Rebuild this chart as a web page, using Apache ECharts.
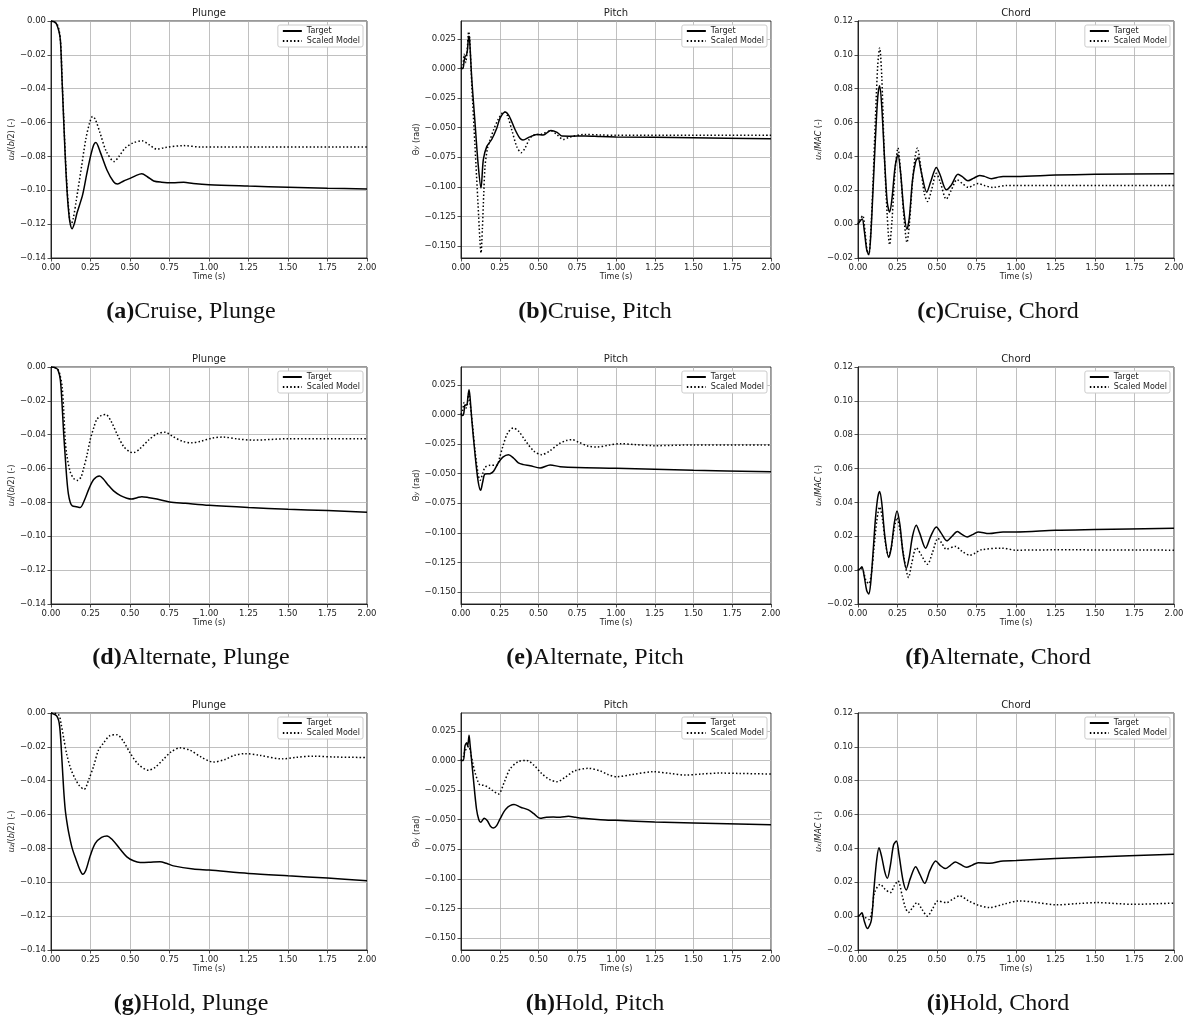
<!DOCTYPE html>
<html>
<head>
<meta charset="utf-8">
<script src="https://cdn.jsdelivr.net/npm/echarts@6/dist/echarts.min.js"></script>
<style>
html,body{margin:0;padding:0;background:#fff;}
#main{width:1190px;height:1021px;}
</style>
</head>
<body>
<div id="main"></div>
<script>
// series: [time (s), value]
var cruisePlungeTarget = [[0,0],[0.03,-0.001],[0.05,-0.006],[0.06,-0.012],[0.07,-0.035],[0.08,-0.058],[0.09,-0.08],[0.10,-0.098],[0.11,-0.111],[0.12,-0.119],[0.133,-0.1227],[0.15,-0.119],[0.164,-0.1136],[0.2,-0.1027],[0.227,-0.090],[0.25,-0.080],[0.27,-0.0732],[0.284,-0.0718],[0.31,-0.077],[0.354,-0.088],[0.396,-0.095],[0.421,-0.0963],[0.46,-0.0945],[0.50,-0.093],[0.54,-0.0912],[0.575,-0.0903],[0.61,-0.092],[0.65,-0.0945],[0.70,-0.0952],[0.77,-0.0955],[0.84,-0.0953],[0.90,-0.096],[1.0,-0.0967],[1.25,-0.0975],[1.5,-0.0982],[1.75,-0.0988],[2.0,-0.0992]];
var cruisePlungeModel = [[0,0],[0.04,-0.002],[0.06,-0.012],[0.07,-0.034],[0.08,-0.056],[0.09,-0.078],[0.10,-0.096],[0.11,-0.109],[0.126,-0.1205],[0.14,-0.117],[0.16,-0.106],[0.19,-0.088],[0.22,-0.070],[0.245,-0.060],[0.263,-0.0564],[0.28,-0.058],[0.31,-0.066],[0.35,-0.077],[0.40,-0.083],[0.43,-0.080],[0.47,-0.075],[0.52,-0.072],[0.575,-0.0708],[0.62,-0.073],[0.67,-0.0757],[0.72,-0.0748],[0.84,-0.0736],[0.95,-0.0745],[1.25,-0.0745],[2.0,-0.0745]];

var cruisePitchTarget = [[0,0],[0.012,0],[0.02,0.006],[0.026,0.010],[0.035,0.011],[0.042,0.016],[0.05,0.0272],[0.055,0.025],[0.07,-0.01],[0.09,-0.045],[0.11,-0.08],[0.129,-0.101],[0.144,-0.077],[0.166,-0.066],[0.198,-0.060],[0.23,-0.0507],[0.252,-0.042],[0.284,-0.0367],[0.31,-0.040],[0.35,-0.052],[0.38,-0.059],[0.40,-0.0605],[0.44,-0.058],[0.49,-0.0557],[0.53,-0.0563],[0.58,-0.0524],[0.62,-0.054],[0.65,-0.0571],[0.70,-0.0572],[0.80,-0.057],[0.9,-0.0575],[1.0,-0.0578],[1.5,-0.0585],[2.0,-0.0594]];
var cruisePitchModel = [[0,0],[0.012,0.002],[0.02,0.012],[0.026,0.008],[0.03,0.005],[0.038,0.012],[0.05,0.031],[0.056,0.025],[0.07,-0.015],[0.09,-0.065],[0.11,-0.115],[0.122,-0.145],[0.129,-0.1557],[0.138,-0.135],[0.147,-0.105],[0.155,-0.083],[0.17,-0.068],[0.187,-0.0605],[0.21,-0.052],[0.24,-0.043],[0.278,-0.0367],[0.30,-0.040],[0.33,-0.053],[0.36,-0.066],[0.388,-0.0711],[0.41,-0.068],[0.44,-0.060],[0.467,-0.0563],[0.52,-0.0555],[0.58,-0.0527],[0.62,-0.056],[0.66,-0.060],[0.70,-0.058],[0.80,-0.0557],[0.9,-0.0562],[1.0,-0.0565],[2.0,-0.0565]];

var cruiseChordTarget = [[0,0],[0.015,0.002],[0.027,0.003],[0.04,-0.004],[0.055,-0.015],[0.068,-0.018],[0.08,-0.008],[0.095,0.020],[0.11,0.050],[0.125,0.075],[0.137,0.0818],[0.15,0.070],[0.17,0.035],[0.185,0.013],[0.20,0.0071],[0.215,0.015],[0.235,0.034],[0.253,0.041],[0.27,0.030],[0.29,0.008],[0.31,-0.003],[0.325,0.004],[0.345,0.026],[0.365,0.037],[0.38,0.0392],[0.40,0.031],[0.435,0.0189],[0.46,0.025],[0.496,0.0335],[0.52,0.029],[0.559,0.0203],[0.59,0.023],[0.633,0.0294],[0.66,0.0280],[0.696,0.0256],[0.73,0.027],[0.77,0.0288],[0.80,0.0282],[0.844,0.0268],[0.88,0.0276],[0.918,0.0282],[1.0,0.0282],[1.25,0.029],[1.5,0.0294],[2.0,0.0298]];
var cruiseChordModel = [[0,0],[0.015,0.003],[0.03,0.005],[0.045,-0.005],[0.058,-0.016],[0.068,-0.018],[0.08,-0.006],[0.095,0.025],[0.11,0.062],[0.125,0.094],[0.137,0.1041],[0.15,0.088],[0.165,0.045],[0.185,0.005],[0.20,-0.0122],[0.215,0.002],[0.235,0.032],[0.253,0.045],[0.27,0.030],[0.29,0.005],[0.31,-0.0108],[0.325,0.000],[0.345,0.025],[0.362,0.040],[0.376,0.045],[0.395,0.035],[0.42,0.018],[0.44,0.0134],[0.465,0.020],[0.496,0.030],[0.52,0.025],[0.559,0.0148],[0.59,0.020],[0.627,0.0262],[0.66,0.024],[0.70,0.0217],[0.73,0.023],[0.76,0.024],[0.80,0.0228],[0.855,0.0217],[0.94,0.0229],[1.0,0.0228],[2.0,0.0228]];

var altPlungeTarget = [[0,0],[0.03,-0.0005],[0.045,-0.002],[0.059,-0.0075],[0.07,-0.022],[0.08,-0.039],[0.09,-0.053],[0.10,-0.066],[0.11,-0.075],[0.122,-0.080],[0.135,-0.082],[0.16,-0.0825],[0.185,-0.083],[0.21,-0.079],[0.24,-0.072],[0.27,-0.0665],[0.307,-0.0644],[0.33,-0.066],[0.36,-0.0695],[0.396,-0.0732],[0.44,-0.0760],[0.48,-0.0775],[0.51,-0.078],[0.545,-0.0772],[0.575,-0.0766],[0.62,-0.0772],[0.67,-0.078],[0.75,-0.0797],[0.85,-0.0805],[1.0,-0.0817],[1.25,-0.083],[1.5,-0.084],[1.75,-0.0848],[2.0,-0.0858]];
var altPlungeModel = [[0,0],[0.04,-0.001],[0.055,-0.004],[0.07,-0.0114],[0.08,-0.025],[0.09,-0.043],[0.10,-0.052],[0.122,-0.062],[0.145,-0.066],[0.168,-0.067],[0.19,-0.065],[0.206,-0.060],[0.228,-0.052],[0.248,-0.043],[0.27,-0.036],[0.29,-0.031],[0.32,-0.0285],[0.347,-0.0281],[0.38,-0.032],[0.42,-0.040],[0.46,-0.047],[0.50,-0.0502],[0.522,-0.0506],[0.56,-0.0485],[0.62,-0.043],[0.67,-0.0395],[0.722,-0.0385],[0.77,-0.041],[0.83,-0.0438],[0.89,-0.0448],[0.95,-0.0438],[1.02,-0.042],[1.09,-0.0414],[1.18,-0.0425],[1.28,-0.0432],[1.5,-0.0424],[2.0,-0.0424]];

var altPitchTarget = [[0,0],[0.01,-0.001],[0.018,0.001],[0.026,0.008],[0.037,0.008],[0.045,0.015],[0.052,0.0208],[0.058,0.015],[0.07,-0.005],[0.09,-0.033],[0.11,-0.056],[0.127,-0.064],[0.14,-0.057],[0.155,-0.0503],[0.187,-0.050],[0.21,-0.048],[0.24,-0.041],[0.27,-0.036],[0.306,-0.034],[0.34,-0.037],[0.37,-0.041],[0.403,-0.0424],[0.446,-0.0433],[0.51,-0.0452],[0.575,-0.0427],[0.64,-0.0441],[0.747,-0.0449],[1.0,-0.0455],[1.5,-0.0472],[2.0,-0.0483]];
var altPitchModel = [[0,0],[0.01,0.003],[0.02,0.010],[0.03,0.005],[0.04,0.008],[0.05,0.018],[0.06,0.008],[0.075,-0.01],[0.09,-0.030],[0.11,-0.050],[0.123,-0.0556],[0.14,-0.050],[0.155,-0.0447],[0.187,-0.043],[0.23,-0.043],[0.25,-0.036],[0.27,-0.027],[0.30,-0.016],[0.338,-0.0115],[0.37,-0.014],[0.42,-0.023],[0.47,-0.031],[0.52,-0.034],[0.57,-0.031],[0.63,-0.025],[0.68,-0.022],[0.715,-0.0213],[0.76,-0.0235],[0.82,-0.0268],[0.876,-0.0275],[0.95,-0.026],[1.03,-0.0247],[1.12,-0.0255],[1.25,-0.0264],[1.5,-0.0258],[2.0,-0.0258]];

var altChordTarget = [[0,0],[0.015,0.001],[0.025,0.002],[0.04,-0.004],[0.055,-0.012],[0.068,-0.0141],[0.08,-0.008],[0.095,0.010],[0.11,0.030],[0.125,0.043],[0.137,0.0465],[0.15,0.040],[0.17,0.020],[0.194,0.0075],[0.21,0.013],[0.23,0.028],[0.247,0.035],[0.265,0.027],[0.285,0.010],[0.306,0.001],[0.325,0.008],[0.345,0.020],[0.369,0.0265],[0.39,0.022],[0.428,0.013],[0.46,0.020],[0.496,0.0255],[0.525,0.022],[0.563,0.0173],[0.595,0.020],[0.629,0.0228],[0.66,0.021],[0.692,0.0196],[0.725,0.021],[0.76,0.0226],[0.83,0.0216],[0.918,0.0226],[1.0,0.0226],[1.25,0.0236],[1.5,0.024],[2.0,0.0247]];
var altChordModel = [[0,0],[0.02,0.001],[0.035,-0.001],[0.05,-0.006],[0.068,-0.008],[0.085,-0.002],[0.10,0.012],[0.12,0.030],[0.137,0.0373],[0.155,0.030],[0.175,0.015],[0.194,0.0084],[0.21,0.013],[0.23,0.025],[0.247,0.031],[0.265,0.024],[0.29,0.008],[0.32,-0.0043],[0.34,0.004],[0.369,0.0133],[0.40,0.009],[0.44,0.0035],[0.47,0.010],[0.506,0.0188],[0.53,0.016],[0.559,0.0124],[0.616,0.014],[0.66,0.011],[0.707,0.0088],[0.74,0.010],[0.78,0.012],[0.91,0.013],[1.0,0.0118],[1.25,0.012],[2.0,0.0118]];

var holdPlungeTarget = [[0,0],[0.038,-0.002],[0.055,-0.008],[0.07,-0.029],[0.08,-0.045],[0.09,-0.057],[0.10,-0.064],[0.112,-0.0707],[0.133,-0.0795],[0.16,-0.087],[0.18,-0.092],[0.2,-0.0952],[0.22,-0.093],[0.248,-0.0844],[0.28,-0.077],[0.32,-0.0735],[0.354,-0.0726],[0.39,-0.075],[0.438,-0.0805],[0.48,-0.085],[0.522,-0.0873],[0.564,-0.0883],[0.62,-0.0882],[0.69,-0.0879],[0.73,-0.0888],[0.775,-0.0903],[0.9,-0.0922],[1.0,-0.0928],[1.25,-0.0948],[1.5,-0.0962],[1.75,-0.0975],[2.0,-0.0991]];
var holdPlungeModel = [[0,0],[0.048,-0.001],[0.065,-0.007],[0.08,-0.0147],[0.1,-0.0245],[0.125,-0.033],[0.154,-0.039],[0.18,-0.043],[0.21,-0.0451],[0.24,-0.039],[0.27,-0.0314],[0.30,-0.022],[0.333,-0.0177],[0.37,-0.0135],[0.417,-0.0128],[0.46,-0.017],[0.5,-0.0235],[0.55,-0.030],[0.617,-0.0338],[0.66,-0.032],[0.71,-0.0275],[0.76,-0.023],[0.817,-0.0206],[0.88,-0.022],[0.95,-0.026],[1.027,-0.029],[1.1,-0.0275],[1.16,-0.025],[1.227,-0.024],[1.32,-0.025],[1.46,-0.0271],[1.55,-0.0262],[1.66,-0.0255],[1.8,-0.026],[2.0,-0.0263]];

var holdPitchTarget = [[0,0],[0.015,0.0],[0.026,0.0124],[0.037,0.015],[0.043,0.012],[0.052,0.0213],[0.058,0.014],[0.08,-0.0157],[0.1,-0.041],[0.115,-0.050],[0.127,-0.0522],[0.15,-0.0489],[0.17,-0.051],[0.19,-0.0555],[0.209,-0.057],[0.23,-0.055],[0.252,-0.0494],[0.29,-0.041],[0.342,-0.0373],[0.385,-0.0395],[0.435,-0.0418],[0.47,-0.045],[0.51,-0.0489],[0.55,-0.048],[0.596,-0.0478],[0.64,-0.048],[0.693,-0.0472],[0.74,-0.048],[0.79,-0.0489],[0.9,-0.050],[1.0,-0.0506],[1.25,-0.052],[1.5,-0.0528],[2.0,-0.0542]];
var holdPitchModel = [[0,0],[0.015,0.003],[0.026,0.008],[0.038,0.010],[0.05,0.012],[0.06,0.008],[0.075,-0.002],[0.09,-0.01],[0.11,-0.018],[0.123,-0.0208],[0.145,-0.021],[0.166,-0.022],[0.2,-0.025],[0.241,-0.0284],[0.28,-0.018],[0.316,-0.0073],[0.37,-0.001],[0.424,0.0],[0.47,-0.004],[0.52,-0.011],[0.57,-0.016],[0.618,-0.018],[0.67,-0.0145],[0.73,-0.009],[0.822,-0.0067],[0.9,-0.009],[0.95,-0.012],[1.005,-0.0138],[1.1,-0.012],[1.24,-0.0096],[1.35,-0.011],[1.45,-0.0124],[1.55,-0.0115],[1.67,-0.0107],[1.8,-0.011],[2.0,-0.0115]];

var holdChordTarget = [[0,0],[0.015,0.001],[0.025,0.002],[0.04,-0.003],[0.059,-0.0073],[0.084,-0.0027],[0.10,0.015],[0.118,0.033],[0.133,0.0404],[0.15,0.035],[0.17,0.026],[0.186,0.0224],[0.205,0.030],[0.225,0.042],[0.243,0.0444],[0.26,0.036],[0.285,0.021],[0.306,0.0155],[0.33,0.022],[0.365,0.0292],[0.39,0.025],[0.422,0.0194],[0.455,0.027],[0.492,0.0326],[0.52,0.030],[0.553,0.0281],[0.585,0.030],[0.616,0.032],[0.65,0.0305],[0.686,0.0289],[0.72,0.030],[0.76,0.0316],[0.833,0.0312],[0.918,0.0326],[1.0,0.0328],[1.25,0.034],[1.5,0.035],[2.0,0.0365]];
var holdChordModel = [[0,0],[0.03,0.0],[0.05,-0.001],[0.07,-0.002],[0.09,0.004],[0.105,0.014],[0.141,0.0188],[0.17,0.016],[0.205,0.0139],[0.23,0.018],[0.253,0.0208],[0.28,0.012],[0.30,0.005],[0.319,0.0022],[0.345,0.005],[0.373,0.008],[0.405,0.004],[0.439,0.0],[0.47,0.004],[0.506,0.009],[0.559,0.008],[0.6,0.010],[0.644,0.012],[0.7,0.009],[0.76,0.0065],[0.833,0.0051],[0.92,0.007],[1.02,0.009],[1.12,0.0082],[1.255,0.0067],[1.4,0.0075],[1.51,0.008],[1.74,0.007],[2.0,0.0077]];

var pitchTicks = [-0.15, -0.125, -0.1, -0.075, -0.05, -0.025, 0, 0.025];
var seriesNames = ['Target', 'Scaled Model'];
var columnTitles = ['Plunge', 'Pitch', 'Chord'];
var rowNames = ['Cruise', 'Alternate', 'Hold'];
var panelLetters = ['a', 'b', 'c', 'd', 'e', 'f', 'g', 'h', 'i'];
var panelData = [
	[cruisePlungeTarget, cruisePlungeModel], [cruisePitchTarget, cruisePitchModel], [cruiseChordTarget, cruiseChordModel],
	[altPlungeTarget, altPlungeModel], [altPitchTarget, altPitchModel], [altChordTarget, altChordModel],
	[holdPlungeTarget, holdPlungeModel], [holdPitchTarget, holdPitchModel], [holdChordTarget, holdChordModel]
];

var FONT = 'DejaVu Sans';
var INK = '#222';

// layout of the 3x3 grid
var colLeft = [51, 461, 858];
var colWidth = [316, 310, 316];
var colCenter = [191, 595, 998];
var rowTop = [21, 367, 713];
var plotH = 237;

// y axis per column
var yCfg = [
	{min: -0.14, max: 0, step: 0.02, dec: 2, gap: 33, name: '{i|u}{s|z}/({i|b}/2) (-)'},
	{min: -0.16, max: 0.04, step: 0.025, dec: 3, gap: 40, name: 'Θ{s|y} (rad)'},
	{min: -0.02, max: 0.12, step: 0.02, dec: 2, gap: 33, name: '{i|u}{s|x}/{i|MAC} (-)'}
];

function fmt(dec){
	return function(v){
		if(Math.abs(v) < 1e-9) v = 0;
		var s = Math.abs(v).toFixed(dec);
		return v < 0 ? '\u2212' + s : s;
	};
}

// safe = extra switches for the v6 layout code, used only if the plain option throws
function build(safe){
	var grids = [], xAxes = [], yAxes = [], series = [], legends = [], graphics = [];
	for(var i = 0; i < 9; i++){
		var r = Math.floor(i / 3), c = i % 3;
		var left = colLeft[c], top = rowTop[r], w = colWidth[c];
		var yc = yCfg[c];
		var g = {left: left, top: top, width: w, height: plotH, show: true, borderColor: '#000', borderWidth: 0.8};
		if(safe) g.outerBoundsMode = 'none';
		grids.push(g);
		var xa = {
			type: 'value', gridIndex: i, min: 0, max: 2, interval: 0.25,
			name: 'Time (s)', nameLocation: 'middle', nameGap: 15,
			nameTextStyle: {fontSize: 8, color: INK, fontFamily: FONT},
			axisLine: {show: true, onZero: false, lineStyle: {color: '#000', width: 0.8}},
			axisTick: {show: true, length: 3.5, lineStyle: {color: INK, width: 0.8}},
			axisLabel: {fontSize: 8.5, color: INK, fontFamily: FONT, margin: 5, formatter: fmt(2)},
			splitLine: {show: true, lineStyle: {color: '#b0b0b0', width: 0.8}}
		};
		var ya = {
			type: 'value', gridIndex: i, min: yc.min, max: yc.max,
			name: yc.name, nameLocation: 'middle', nameGap: yc.gap,
			nameTextStyle: {fontSize: 8, color: INK, fontFamily: FONT,
				rich: {i: {fontSize: 8, fontStyle: 'italic', color: INK, fontFamily: FONT},
					s: {fontSize: 6, fontStyle: 'italic', color: INK, fontFamily: FONT}}},
			axisLine: {show: true, onZero: false, lineStyle: {color: '#000', width: 0.8}},
			axisTick: {show: true, length: 3.5, lineStyle: {color: INK, width: 0.8}},
			axisLabel: {fontSize: 8.5, color: INK, fontFamily: FONT, margin: 5, formatter: fmt(yc.dec)},
			splitLine: {show: true, lineStyle: {color: '#b0b0b0', width: 0.8}}
		};
		if(c == 1){
			// pitch limits are not multiples of the tick step
			ya.axisTick.customValues = pitchTicks;
			ya.axisLabel.customValues = pitchTicks;
		}else{
			ya.interval = yc.step;
		}
		if(safe){
			xa.nameMoveOverlap = false;
			ya.nameMoveOverlap = false;
		}
		xAxes.push(xa);
		yAxes.push(ya);

		series.push({
			name: seriesNames[0], type: 'line', xAxisIndex: i, yAxisIndex: i,
			data: panelData[i][0], showSymbol: false, symbol: 'none', smooth: 0.3, z: 3,
			lineStyle: {color: '#000', width: 1.5}, itemStyle: {color: '#000'}
		});
		series.push({
			name: seriesNames[1], type: 'line', xAxisIndex: i, yAxisIndex: i,
			data: panelData[i][1], showSymbol: false, symbol: 'none', smooth: 0.3, z: 2,
			lineStyle: {color: '#000', width: 1.5, type: [1.5, 2.2]}, itemStyle: {color: '#000'}
		});

		legends.push({
			data: seriesNames.slice(), orient: 'vertical', right: 1190 - (left + w) + 4, top: top + 4,
			padding: [2, 3, 2, 4], itemGap: 2, itemWidth: 19, itemHeight: 10,
			borderColor: '#ccc', borderWidth: 1, borderRadius: 2, backgroundColor: '#fff',
			itemStyle: {opacity: 0},
			textStyle: {fontSize: 8, color: INK, fontFamily: FONT}
		});

		graphics.push({
			type: 'text', x: left + w / 2, y: top - 8,
			style: {text: columnTitles[c], fontSize: 10, fontFamily: FONT, fill: INK, align: 'center', verticalAlign: 'middle'}
		});
		graphics.push({
			type: 'text', x: colCenter[c], y: top + 291,
			style: {text: '{b|(' + panelLetters[i] + ')}' + rowNames[r] + ', ' + columnTitles[c],
				fontSize: 24, fontFamily: 'Liberation Serif', fill: '#111', align: 'center', verticalAlign: 'middle',
				rich: {b: {fontSize: 24, fontWeight: 'bold', fontFamily: 'Liberation Serif', fill: '#111'}}}
		});
	}
	return {backgroundColor: '#fff', animation: false, grid: grids, xAxis: xAxes, yAxis: yAxes,
		legend: legends, series: series, graphic: graphics};
}

var chart = echarts.init(document.getElementById('main'));
try{
	chart.setOption(build(false));
}catch(e){
	chart.dispose();
	chart = echarts.init(document.getElementById('main'));
	chart.setOption(build(true));
}
</script>
</body>
</html>
